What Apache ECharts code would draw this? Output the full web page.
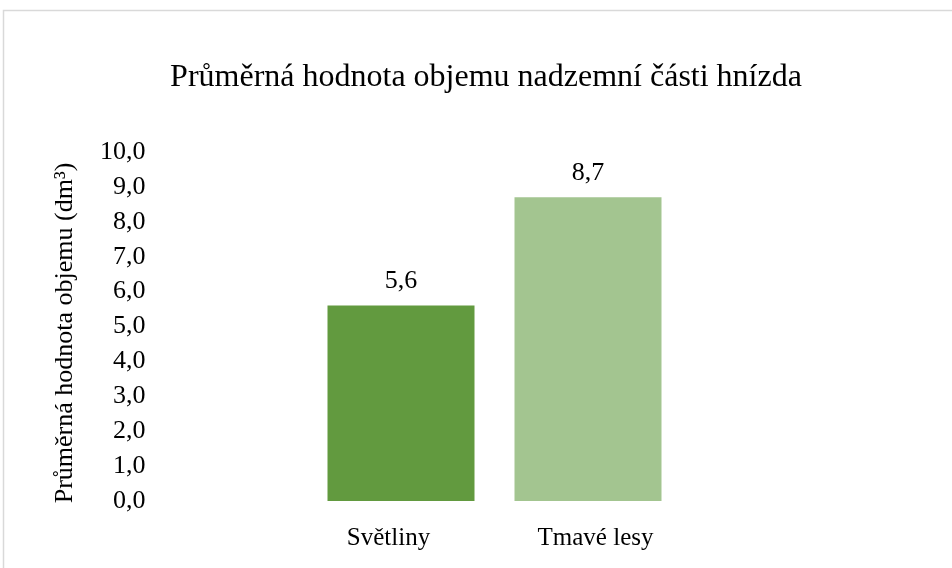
<!DOCTYPE html>
<html>
<head>
<meta charset="utf-8">
<script src="https://cdn.jsdelivr.net/npm/echarts@6/dist/echarts.min.js"></script>
<style>
  html, body { margin: 0; padding: 0; background: #fff; }
  #chart { width: 952px; height: 568px; }
</style>
</head>
<body>
<div id="chart"></div>
<script>
var categories = ['Světliny', 'Tmavé lesy'];
var values = [5.6, 8.7];
var barColors = ['#629a3f', '#a3c590'];

var chart = echarts.init(document.getElementById('chart'));
var serif = '"Liberation Serif", "Times New Roman", serif';
// category labels in the original sit a little off the bar centres
var labelPads = [[0, 25, 0, 0], [0, 0, 0, 15]];

chart.setOption({
    backgroundColor: '#fff',
    textStyle: { fontFamily: serif },
    graphic: [{
        type: 'rect',
        shape: { x: 3.5, y: 10.5, width: 1000, height: 600 },
        style: { fill: 'none', stroke: '#d9d9d9', lineWidth: 1.5 },
        silent: true
    }],
    title: {
        text: 'Průměrná hodnota objemu nadzemní části hnízda',
        left: 481,
        textAlign: 'center',
        top: 57,
        textStyle: { fontFamily: serif, fontSize: 32, fontWeight: 'normal', color: '#000' }
    },
    grid: { left: 307.5, right: 270.5, top: 152, bottom: 67 },
    xAxis: {
        type: 'category',
        data: categories.map(function (c, i) {
            return { value: c, textStyle: { padding: labelPads[i] } };
        }),
        axisLine: { show: false },
        axisTick: { show: false },
        axisLabel: { margin: 25, fontSize: 25, color: '#000', fontFamily: serif }
    },
    yAxis: {
        type: 'value',
        min: 0,
        max: 10,
        interval: 1,
        name: 'Průměrná hodnota objemu (dm³)',
        nameLocation: 'middle',
        nameGap: 229,
        nameTextStyle: { fontSize: 26, color: '#000', fontFamily: serif, padding: [0, 13, 0, 0] },
        splitLine: { show: false },
        axisLine: { show: false },
        axisTick: { show: false },
        axisLabel: {
            margin: 162,
            fontSize: 26,
            color: '#000',
            fontFamily: serif,
            formatter: function (v) { return v.toFixed(1).replace('.', ','); }
        }
    },
    series: [{
        type: 'bar',
        barWidth: 147,
        data: values.map(function (v, i) {
            return { value: v, itemStyle: { color: barColors[i] } };
        }),
        label: {
            show: true,
            position: 'top',
            distance: 11,
            fontSize: 26,
            color: '#000',
            fontFamily: serif,
            formatter: function (p) { return p.value.toFixed(1).replace('.', ','); }
        }
    }]
});
</script>
</body>
</html>
